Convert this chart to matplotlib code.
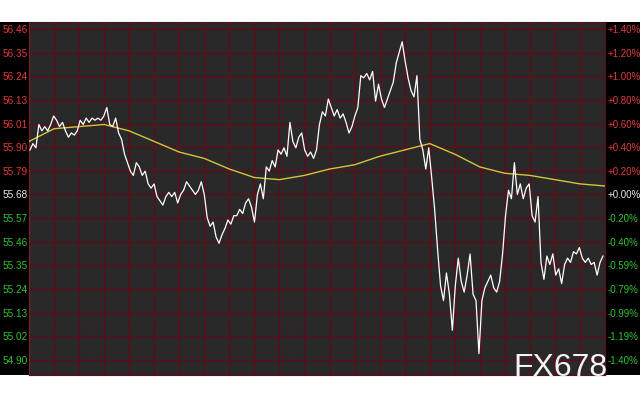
import matplotlib
matplotlib.use('Agg')
import matplotlib.pyplot as plt
import numpy as np

plt.rcParams['font.family'] = ['Liberation Sans', 'DejaVu Sans']

# intraday price (white line), evenly spaced samples through the session
price = [
    55.89, 55.92, 55.90, 56.01, 55.98, 56.00, 55.98, 56.01, 56.05, 56.03,
    56.00, 56.02, 55.98, 55.95, 55.97, 55.96, 55.98, 56.03, 56.01, 56.04,
    56.02, 56.04, 56.03, 56.04, 56.03, 56.05, 56.09, 56.01, 56.00, 56.04,
    55.97, 55.94, 55.87, 55.83, 55.79, 55.77, 55.83, 55.81, 55.77, 55.79,
    55.73, 55.71, 55.73, 55.67, 55.65, 55.63, 55.67, 55.69, 55.67, 55.69,
    55.64, 55.68, 55.70, 55.74, 55.72, 55.70, 55.68, 55.70, 55.74, 55.68,
    55.57, 55.53, 55.55, 55.48, 55.45, 55.49, 55.52, 55.56, 55.54, 55.58,
    55.58, 55.61, 55.59, 55.64, 55.66, 55.62, 55.55, 55.68, 55.73, 55.66,
    55.81, 55.79, 55.84, 55.81, 55.89, 55.87, 55.90, 55.86, 56.02, 55.93,
    55.90, 55.95, 55.97, 55.89, 55.86, 55.88, 55.85, 55.89, 56.01, 56.07,
    56.05, 56.13, 56.09, 56.05, 56.08, 56.04, 56.06, 56.02, 55.97, 56.00,
    56.05, 56.09, 56.24, 56.23, 56.25, 56.22, 56.26, 56.12, 56.20, 56.13,
    56.09, 56.13, 56.17, 56.21, 56.30, 56.35, 56.40, 56.31, 56.23, 56.17,
    56.14, 56.24, 55.94, 55.89, 55.80, 55.90, 55.76, 55.61, 55.42, 55.25,
    55.18, 55.31, 55.21, 55.04, 55.25, 55.38, 55.27, 55.22, 55.30, 55.40,
    55.21, 55.18, 54.93, 55.18, 55.24, 55.27, 55.30, 55.24, 55.22, 55.27,
    55.40, 55.58, 55.70, 55.66, 55.83, 55.68, 55.73, 55.66, 55.71, 55.73,
    55.58, 55.55, 55.67, 55.36, 55.28, 55.39, 55.35, 55.40, 55.30, 55.33,
    55.26, 55.35, 55.38, 55.36, 55.41, 55.40, 55.43, 55.38, 55.36, 55.38,
    55.35, 55.36, 55.30, 55.36, 55.39,
]

# moving average (yellow line), one value per vertical grid line
avg = [
    55.93, 55.99, 56.00, 56.01, 55.98, 55.93, 55.88, 55.85, 55.80, 55.76,
    55.75, 55.77, 55.80, 55.82, 55.86, 55.89, 55.92, 55.87, 55.81, 55.78,
    55.77, 55.75, 55.73, 55.72,
]

left_labels = ['56.46', '56.35', '56.24', '56.13', '56.01', '55.90', '55.79', '55.68',
               '55.57', '55.46', '55.35', '55.24', '55.13', '55.02', '54.90']
right_labels = ['+1.40%', '+1.20%', '+1.00%', '+0.80%', '+0.60%', '+0.40%', '+0.20%', '+0.00%',
                '-0.20%', '-0.40%', '-0.59%', '-0.79%', '-0.99%', '-1.19%', '-1.40%']
base = 55.68

levels = np.linspace(56.46, 54.90, len(left_labels))
step = levels[0] - levels[1]

fig = plt.figure(figsize=(6.4, 4), dpi=100)
fig.patch.set_facecolor('white')

# black band behind the plot and its axis labels
bottom, top = 1 - 375 / 400, 1 - 22 / 400
fig.patches.append(plt.Rectangle((0, bottom), 1, top - bottom, transform=fig.transFigure,
                                 facecolor='black', edgecolor='none', zorder=-1))

ax = fig.add_axes([29 / 640, bottom, (605 - 29) / 640, top - bottom])
ax.set_facecolor('#292929')

ngrid = len(avg) - 1
ax.set_xlim(0, ngrid)
ax.set_ylim(levels[-1] - step * 15 / 23.6, levels[0] + step * 7 / 23.6)

ax.set_xticks(np.arange(1, ngrid))
ax.set_yticks(levels)
ax.grid(True, color='#620b17', linewidth=1.0)
ax.set_axisbelow(True)
ax.tick_params(axis='x', length=0, labelbottom=False)
ax.tick_params(axis='y', length=0, pad=1, labelsize=7.2)
ax.set_yticklabels(left_labels)

def label_color(v):
    if abs(v - base) < 1e-6:
        return '#e8e8e8'
    return '#e23a3a' if v > base else '#2dc42d'

for t, v in zip(ax.get_yticklabels(), levels):
    t.set_color(label_color(v))

for s in ax.spines.values():
    s.set_color('#620b17')
ax.spines['left'].set_color('#8a1a22')

ax2 = ax.twinx()
ax2.set_ylim(ax.get_ylim())
ax2.set_yticks(levels)
ax2.set_yticklabels(right_labels)
ax2.tick_params(axis='y', length=0, pad=2, labelsize=7)
for t, v in zip(ax2.get_yticklabels(), levels):
    t.set_color(label_color(v))
for s in ax2.spines.values():
    s.set_visible(False)

x_price = np.linspace(0.04, ngrid - 0.08, len(price))
x_avg = np.arange(len(avg))
ax.plot(x_avg, avg, color='#d2c43c', linewidth=1.0, zorder=3)
ax.plot(x_price, price, color='white', linewidth=0.9, zorder=4)

fig.text(608 / 640, 1 - 376 / 400, 'FX678', color='#f4f4f4', fontsize=23,
         ha='right', va='baseline', zorder=10)

fig.savefig('out.png', dpi=100, facecolor='white')
